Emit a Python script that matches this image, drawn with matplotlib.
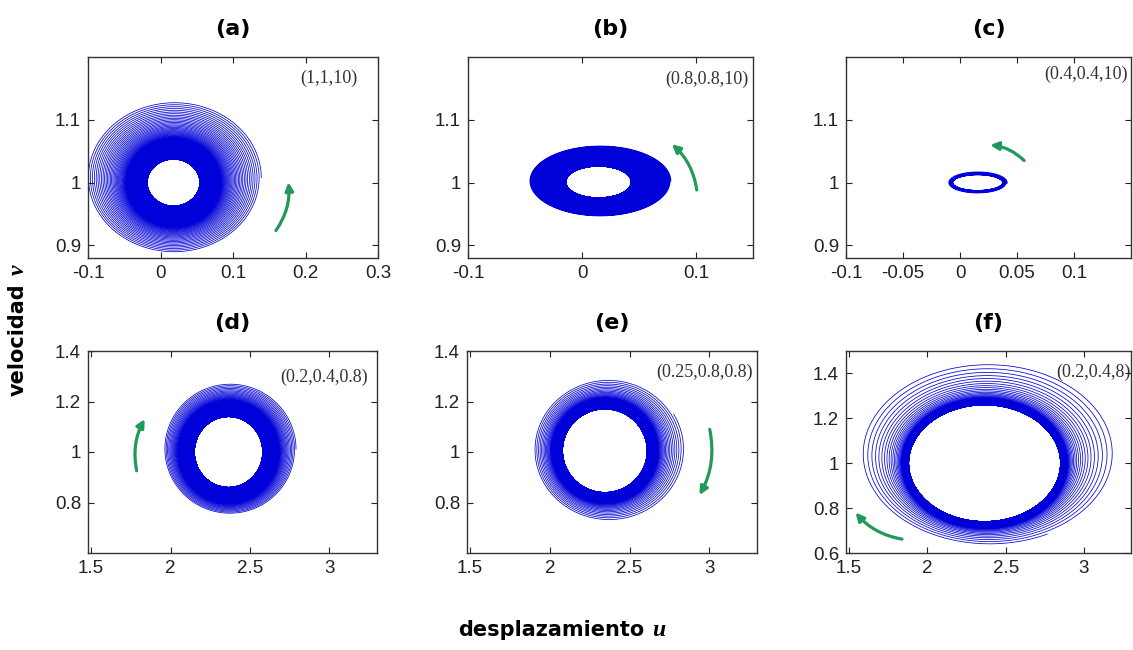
import numpy as np
import matplotlib
matplotlib.use("Agg")
import matplotlib.pyplot as plt
from matplotlib.patches import FancyArrowPatch

# -----------------------------------------------------
# data
# -----------------------------------------------------

panel_titles = ["(a)", "(b)", "(c)", "(d)", "(e)", "(f)"]
param_labels = ["(1,1,10)", "(0.8,0.8,10)", "(0.4,0.4,10)",
                "(0.2,0.4,0.8)", "(0.25,0.8,0.8)", "(0.2,0.4,8)"]

x_limits = [(-0.1, 0.3), (-0.1, 0.15), (-0.1, 0.15),
            (1.48, 3.3), (1.48, 3.3), (1.48, 3.3)]
y_limits = [(0.88, 1.2), (0.88, 1.2), (0.88, 1.2),
            (0.6, 1.4), (0.6, 1.4), (0.6, 1.5)]

x_ticks = [[-0.1, 0, 0.1, 0.2, 0.3],
           [-0.1, 0, 0.1],
           [-0.1, -0.05, 0, 0.05, 0.1],
           [1.5, 2, 2.5, 3],
           [1.5, 2, 2.5, 3],
           [1.5, 2, 2.5, 3]]
x_tick_labels = [["-0.1", "0", "0.1", "0.2", "0.3"],
                 ["-0.1", "0", "0.1"],
                 ["-0.1", "-0.05", "0", "0.05", "0.1"],
                 ["1.5", "2", "2.5", "3"],
                 ["1.5", "2", "2.5", "3"],
                 ["1.5", "2", "2.5", "3"]]
y_ticks = [[0.9, 1, 1.1], [0.9, 1, 1.1], [0.9, 1, 1.1],
           [0.8, 1, 1.2, 1.4], [0.8, 1, 1.2, 1.4],
           [0.6, 0.8, 1, 1.2, 1.4]]
y_tick_labels = [["0.9", "1", "1.1"], ["0.9", "1", "1.1"], ["0.9", "1", "1.1"],
                 ["0.8", "1", "1.2", "1.4"], ["0.8", "1", "1.2", "1.4"],
                 ["0.6", "0.8", "1", "1.2", "1.4"]]

# trajectory: outer/inner centre (u, v) and half axes (u, v)
outer_center = [(0.019, 1.008), (0.016, 1.0025), (0.0155, 1.0),
                (2.375, 1.012), (2.37, 1.01), (2.395, 1.045)]
inner_center = [(0.018, 1.0), (0.0145, 1.001), (0.0155, 1.0),
                (2.365, 1.0), (2.345, 1.005), (2.365, 1.0)]
outer_axes = [(0.12, 0.12), (0.062, 0.056), (0.0255, 0.0165),
              (0.415, 0.258), (0.47, 0.28), (0.815, 0.405)]
inner_axes = [(0.036, 0.037), (0.0285, 0.025), (0.022, 0.013),
              (0.215, 0.14), (0.265, 0.165), (0.485, 0.26)]
n_turns = [160, 250, 8, 150, 90, 80]
decay = [0.965, 0.98, 0.7, 0.955, 0.935, 0.9]
start_angle = [0, 0, 0, 0, 30, -63]
spin = [1, 1, 1, 1, -1, -1]

# green direction arrows (start, end, bend)
arrow_start = [(0.157, 0.92), (0.101, 0.984), (0.058, 1.032),
               (1.79, 0.915), (3.0, 1.1), (1.855, 0.66)]
arrow_end = [(0.176, 1.005), (0.077, 1.064), (0.024, 1.06),
             (1.846, 1.14), (2.93, 0.82), (1.53, 0.79)]
arrow_bend = [0.2, 0.2, 0.2, -0.2, -0.2, -0.2]

# -----------------------------------------------------
# FIGURE
# -----------------------------------------------------

W, H = 1133, 650
fig = plt.figure(figsize=(W / 100, H / 100), dpi=100)

# axes boxes in pixels: left, right, top, bottom
boxes = [(88, 378, 57, 258), (468, 753, 57, 258), (846, 1131, 57, 258),
         (88, 377, 351, 553), (467, 757, 351, 553), (846, 1131, 351, 553)]
label_pos = [(0.93, 0.895), (0.985, 0.89), (0.99, 0.915),
             (0.97, 0.87), (0.985, 0.895), (1.0, 0.895)]

for i in range(6):
    l, r, t, b = boxes[i]
    ax = fig.add_axes([l / W, 1 - b / H, (r - l) / W, (b - t) / H])

    # spiral toward the inner cycle
    th = np.linspace(0, 2 * np.pi * n_turns[i], n_turns[i] * 360)
    k = decay[i] ** (th / (2 * np.pi))
    cu = inner_center[i][0] + (outer_center[i][0] - inner_center[i][0]) * k
    cv = inner_center[i][1] + (outer_center[i][1] - inner_center[i][1]) * k
    au = inner_axes[i][0] + (outer_axes[i][0] - inner_axes[i][0]) * k
    av = inner_axes[i][1] + (outer_axes[i][1] - inner_axes[i][1]) * k
    ang = np.radians(start_angle[i]) + spin[i] * th
    ax.plot(cu + au * np.cos(ang), cv + av * np.sin(ang),
            color="#0000d8", linewidth=0.55 if i != 2 else 1.3)

    arr = FancyArrowPatch(arrow_start[i], arrow_end[i],
                          connectionstyle="arc3,rad=%s" % arrow_bend[i],
                          arrowstyle="-|>,head_length=4,head_width=2.0",
                          color="#22995a", linewidth=2.3, mutation_scale=1.2)
    ax.add_patch(arr)

    ax.set_xlim(x_limits[i])
    ax.set_ylim(y_limits[i])
    ax.set_xticks(x_ticks[i])
    ax.set_xticklabels(x_tick_labels[i])
    ax.set_yticks(y_ticks[i])
    ax.set_yticklabels(y_tick_labels[i])
    ax.tick_params(direction="in", length=4, width=0.8, top=True, right=True,
                   labelsize=13.5, colors="#222222", pad=5)
    for lab in ax.get_xticklabels() + ax.get_yticklabels():
        lab.set_family("Liberation Sans")
    for s in ax.spines.values():
        s.set_color("#333333")
        s.set_linewidth(1.0)

    ax.text(label_pos[i][0], label_pos[i][1], param_labels[i],
            transform=ax.transAxes, ha="right", va="center",
            family="Liberation Serif", fontsize=13, color="#333333")

    ax.set_title(panel_titles[i], fontsize=16, fontweight="bold",
                 family="DejaVu Sans", pad=16)

# axis labels
xl = fig.text(551 / W, 1 - 630 / H, "desplazamiento", fontsize=15,
              fontweight="bold", ha="center", va="center", family="DejaVu Sans")
fig.axes[0].annotate("u", xy=(1, 0.5), xycoords=xl, xytext=(6, 0),
                     textcoords="offset points", ha="left", va="center",
                     fontsize=17, fontweight="bold", style="italic",
                     family="Liberation Serif", annotation_clip=False)

yl = fig.text(18 / W, 1 - 340 / H, "velocidad", fontsize=15, rotation=90,
              fontweight="bold", ha="center", va="center", family="DejaVu Sans")
fig.axes[0].annotate("v", xy=(0.5, 1), xycoords=yl, xytext=(0, 6),
                     textcoords="offset points", ha="center", va="bottom",
                     rotation=90, fontsize=17, fontweight="bold", style="italic",
                     family="Liberation Serif", annotation_clip=False)

plt.savefig("out.png", dpi=100)
